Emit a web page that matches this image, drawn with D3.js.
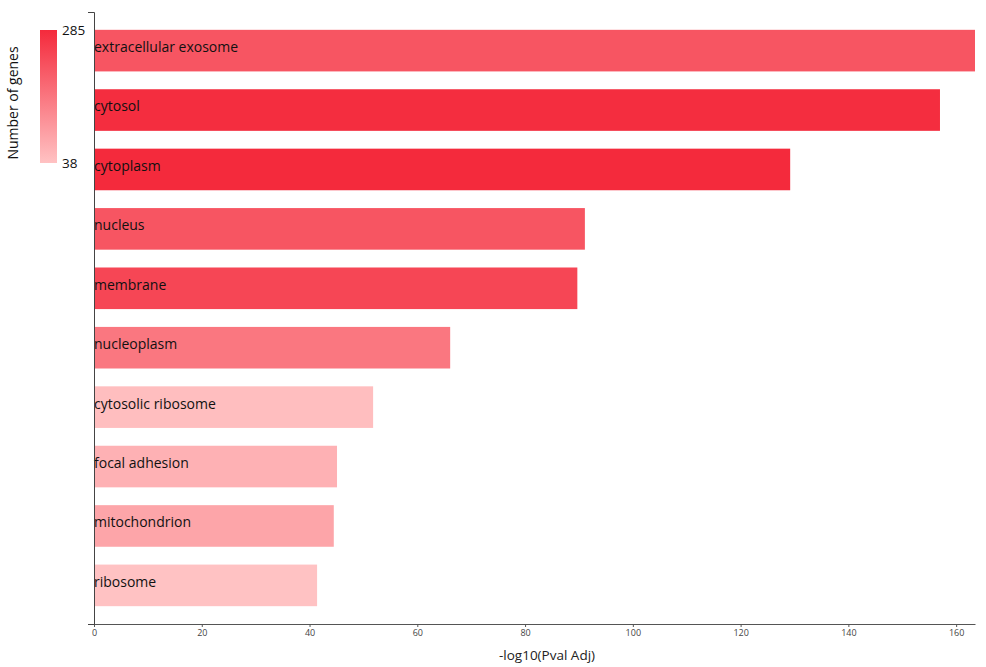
<!DOCTYPE html>
<html>
<head>
<meta charset="utf-8">
<script src="https://cdn.jsdelivr.net/npm/d3@7"></script>
<style>
body{margin:0;background:#fff;}
text{font-family:"Open Sans","Noto Sans",sans-serif;}
</style>
</head>
<body>
<svg id="chart" width="986" height="667"></svg>
<script>
const terms = ["extracellular exosome","cytosol","cytoplasm","nucleus","membrane","nucleoplasm","cytosolic ribosome","focal adhesion","mitochondrion","ribosome"];
const pvals = [163.5,157.0,129.2,91.1,89.7,66.1,51.8,45.1,44.5,41.4];
const genes = [215,280,285,215,240,160,45,65,85,38];
const xTicks = [0,20,40,60,80,100,120,140,160];
const geneRange = [38,285];

const svg = d3.select("#chart");
const mLeft = 94, mRight = 975, mTop = 12, mBottom = 624;

const x = d3.scaleLinear().domain([0, d3.max(pvals)]).range([mLeft, mRight]);
const y = d3.scaleBand().domain(terms).range([mTop, mBottom]).paddingInner(0.3).paddingOuter(0.3);
const color = d3.scaleLinear().domain(geneRange).range(["#ffc2c3","#f42a3c"]).interpolate(d3.interpolateRgb);

const data = terms.map((t,i)=>({t, p:pvals[i], g:genes[i]}));

svg.append("g").selectAll("rect").data(data).join("rect")
  .attr("x", x(0)).attr("y", d=>y(d.t))
  .attr("width", d=>x(d.p)-x(0)).attr("height", y.bandwidth())
  .attr("fill", d=>color(d.g));

svg.append("g").selectAll("text").data(data).join("text")
  .attr("x", x(0)).attr("y", d=>y(d.t)+y.bandwidth()/2)
  .attr("dy","0.1em")
  .attr("font-size","14px").attr("fill","#111")
  .text(d=>d.t);

const xa = svg.append("g").attr("transform",`translate(0,${mBottom})`)
  .call(d3.axisBottom(x).tickValues(xTicks).tickSizeInner(3).tickSizeOuter(0).tickPadding(3));
xa.selectAll("text").attr("font-size","9px").attr("fill","#444").attr("font-family","'Open Sans',sans-serif");
xa.select(".domain").attr("stroke","#555");
xa.selectAll(".tick line").attr("stroke","#555");

const ya = svg.append("g").attr("transform",`translate(${mLeft},0)`)
  .call(d3.axisLeft(y).tickValues([]).tickSizeOuter(6));
ya.select(".domain").attr("stroke","#444");

svg.append("text").attr("x",547).attr("y",660)
  .attr("text-anchor","middle").attr("font-size","13.5px").attr("fill","#222")
  .text("-log10(Pval Adj)");

// legend
const defs = svg.append("defs");
const grad = defs.append("linearGradient").attr("id","lg").attr("x1","0").attr("x2","0").attr("y1","0").attr("y2","1");
grad.append("stop").attr("offset","0%").attr("stop-color",color(geneRange[1]));
grad.append("stop").attr("offset","100%").attr("stop-color",color(geneRange[0]));
const ly = d3.scaleLinear().domain(geneRange).range([163,30]);
svg.append("rect").attr("x",40).attr("y",ly(geneRange[1])).attr("width",17)
  .attr("height",ly(geneRange[0])-ly(geneRange[1])).attr("fill","url(#lg)");
svg.append("g").selectAll("text").data(geneRange).join("text")
  .attr("x",62).attr("y",d=>ly(d)).attr("dy","0.35em")
  .attr("font-size","13.5px").attr("fill","#111").text(d=>d);
svg.append("text").attr("transform","translate(18,103) rotate(-90)")
  .attr("text-anchor","middle").attr("font-size","14px").attr("fill","#111")
  .text("Number of genes");
</script>
</body>
</html>
